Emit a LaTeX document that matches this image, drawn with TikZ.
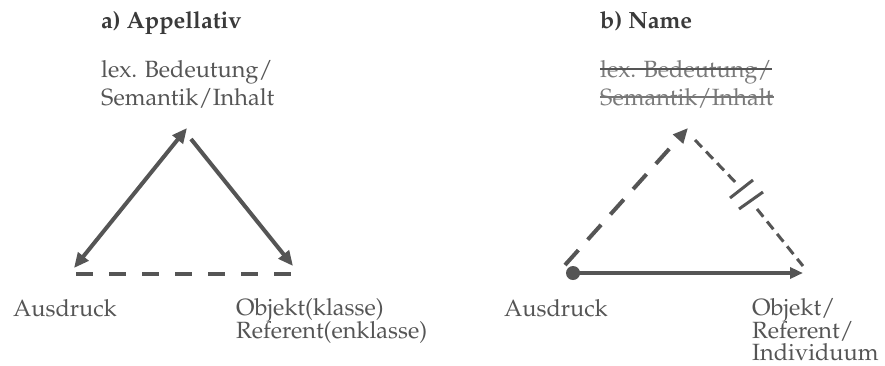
\documentclass[tikz,border=0pt]{standalone}
\usepackage[T1]{fontenc}
\usepackage{mathpazo}
\usetikzlibrary{arrows.meta}
\definecolor{ink}{HTML}{555555}
\definecolor{titleink}{HTML}{3A3A3A}
\definecolor{faded}{HTML}{7A7A7A}
\begin{document}
\begin{tikzpicture}[x=1pt,y=-1pt,
  lbl/.style={anchor=base west, inner sep=0pt, text=ink, font=\fontsize{23.5}{28}\selectfont},
  ttl/.style={anchor=base west, inner sep=0pt, text=titleink, font=\fontsize{23.5}{28}\selectfont\bfseries},
  strk/.style={lbl, text=faded},
  tip/.style={Triangle[length=15pt,width=13pt]},
  arr/.style={draw=ink, line width=4pt},
]
\useasboundingbox (0,0) rectangle (885,365);

% ---------- a) Appellativ ----------
\node[ttl] (ta) at (101,28) {a) Appellativ};
\node[lbl] (a1) at (101,77) {lex. Bedeutung/};
\node[lbl] (a2) at (101,105) {Semantik/Inhalt};
\node[lbl] (aAus) at (13,316) {Ausdruck};
\node[lbl] (aO1) at (236,315) {Objekt(klasse)};
\node[lbl] (aO2) at (236,338) {Referent(enklasse)};

\coordinate (aTop) at (187,128);
\coordinate (aTopR) at (191,139);
\coordinate (aL) at (74,268);
\coordinate (aR) at (293,266);
\coordinate (aDL) at (76,274);
\coordinate (aDR) at (294,274);

\draw[arr, {Triangle[length=15pt,width=13pt]}-{Triangle[length=15pt,width=13pt]}] (aL) -- (aTop);
\draw[arr, -{Triangle[length=15pt,width=13pt]}] (aTopR) -- (aR);
\draw[arr, dash pattern=on 17pt off 16pt] (aDL) -- (aDR);

% ---------- b) Name ----------
\node[ttl] (tb) at (600,28) {b) Name};
\node[strk] (b1) at (600,77) {lex. Bedeutung/};
\node[strk] (b2) at (600,105) {Semantik/Inhalt};
\draw[ink, line width=1.5pt] ([yshift=8pt]b1.base west) -- ([yshift=8pt]b1.base east);
\draw[ink!80, line width=1.5pt] ([yshift=8pt]b2.base west) -- ([yshift=8pt]b2.base east);
\node[lbl] (bAus) at (504,316) {Ausdruck};
\node[lbl] (bO1) at (752,315) {Objekt/};
\node[lbl] (bO2) at (752,338) {Referent/};
\node[lbl] (bO3) at (752,360) {Individuum};

\coordinate (bTop) at (688,128);
\coordinate (bTopR) at (695,140);
\coordinate (bDL) at (565,265);
\coordinate (bG1) at (738,185);
\coordinate (bG2) at (757,209);
\coordinate (bR) at (803,266);
\coordinate (bS) at (573,273);
\coordinate (bE) at (803,273);
\coordinate (s1a) at (730,198);
\coordinate (s1b) at (753,180);
\coordinate (s2a) at (739,209);
\coordinate (s2b) at (763,192);

\draw[arr, dash pattern=on 20pt off 14pt, -{Triangle[length=15pt,width=13pt]}] (bDL) -- (bTop);
\draw[arr, line width=3pt, dash pattern=on 10pt off 6pt] (bTopR) -- (bG1);
\draw[arr, line width=3pt, dash pattern=on 10pt off 6pt] (bG2) -- (bR);
\draw[arr, line width=3pt] (s1a) -- (s1b);
\draw[arr, line width=3pt] (s2a) -- (s2b);
\fill[ink] (bS) circle (7pt);
\draw[arr, line width=4.5pt, -{Triangle[length=13pt,width=11pt]}] (bS) -- (bE);
\end{tikzpicture}
\end{document}
